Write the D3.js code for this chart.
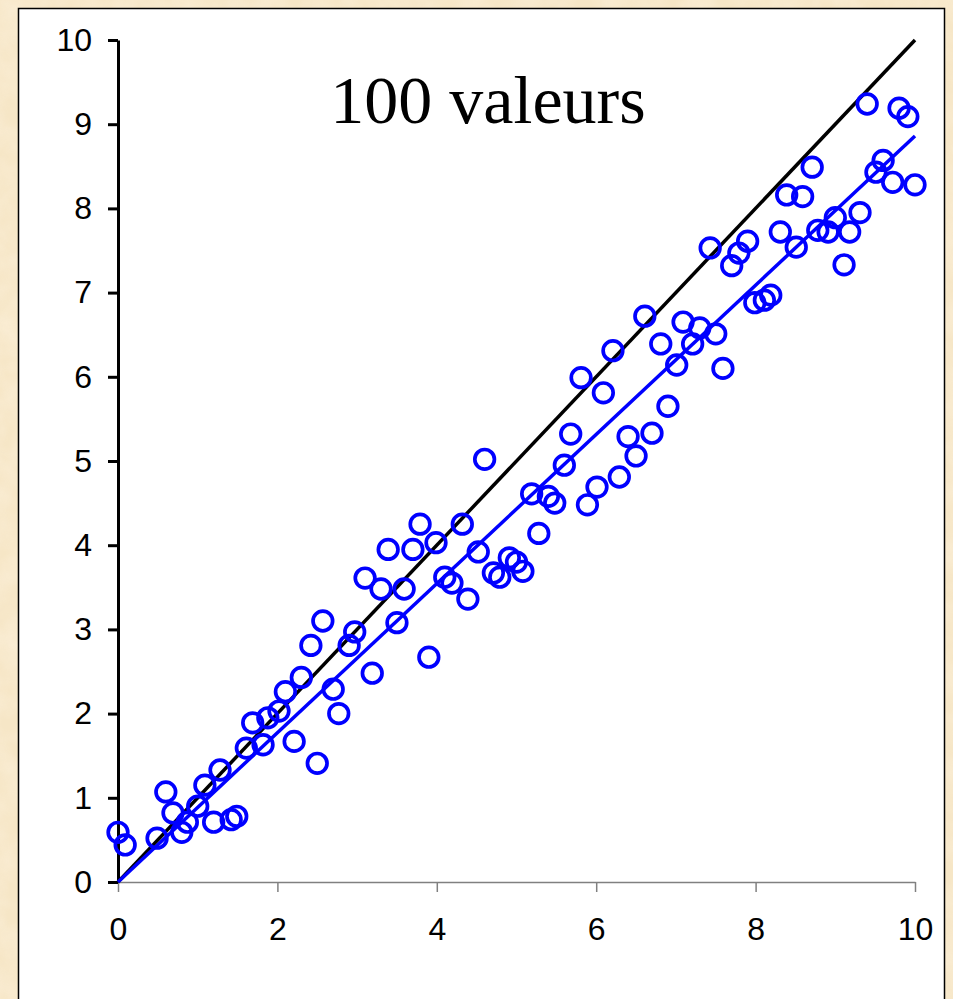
<!DOCTYPE html>
<html>
<head>
<meta charset="utf-8">
<script src="https://cdn.jsdelivr.net/npm/d3@7"></script>
<style>
  body { margin: 0; }
  .axis text { font-family: Arial, "Liberation Sans", sans-serif; font-size: 32px; fill: #000; }
</style>
</head>
<body>
<div id="svg-area"></div>
<script>
// points
var xs = [0.00, 0.09, 0.49, 0.60, 0.69, 0.80, 0.87, 1.00, 1.09, 1.20,
          1.28, 1.42, 1.49, 1.61, 1.69, 1.82, 1.88, 2.02, 2.10, 2.21,
          2.30, 2.42, 2.50, 2.57, 2.70, 2.77, 2.90, 2.97, 3.10, 3.19,
          3.30, 3.39, 3.50, 3.59, 3.70, 3.79, 3.90, 3.99, 4.10, 4.19,
          4.32, 4.39, 4.52, 4.60, 4.71, 4.79, 4.91, 5.00, 5.08, 5.19,
          5.28, 5.40, 5.48, 5.60, 5.68, 5.81, 5.89, 6.01, 6.09, 6.21,
          6.29, 6.40, 6.50, 6.61, 6.70, 6.81, 6.90, 7.01, 7.09, 7.21,
          7.30, 7.43, 7.50, 7.59, 7.70, 7.79, 7.90, 7.99, 8.11, 8.19,
          8.31, 8.39, 8.51, 8.59, 8.71, 8.78, 8.91, 9.00, 9.11, 9.18,
          9.31, 9.40, 9.51, 9.60, 9.72, 9.80, 9.91, 10.00];
var ys = [0.59, 0.44, 0.52, 1.07, 0.82, 0.59, 0.71, 0.90, 1.15, 0.71,
          1.33, 0.74, 0.78, 1.59, 1.89, 1.63, 1.95, 2.03, 2.26, 1.67,
          2.43, 2.81, 1.41, 3.10, 2.29, 2.00, 2.81, 2.97, 3.61, 2.48,
          3.48, 3.95, 3.08, 3.48, 3.95, 4.25, 2.67, 4.03, 3.62, 3.55,
          4.25, 3.36, 3.92, 5.02, 3.67, 3.62, 3.85, 3.80, 3.69, 4.61,
          4.14, 4.58, 4.50, 4.95, 5.32, 5.99, 4.48, 4.69, 5.81, 6.31,
          4.81, 5.29, 5.06, 6.72, 5.33, 6.39, 5.65, 6.14, 6.65, 6.39,
          6.58, 7.53, 6.51, 6.10, 7.32, 7.47, 7.61, 6.88, 6.91, 6.97,
          7.72, 8.16, 7.54, 8.14, 8.49, 7.74, 7.72, 7.89, 7.33, 7.72,
          7.95, 9.24, 8.43, 8.57, 8.31, 9.19, 9.09, 8.28];
var xTicks = [0, 2, 4, 6, 8, 10];
var yTicks = [0, 1, 2, 3, 4, 5, 6, 7, 8, 9, 10];
var idealLine = [[0, 0], [10, 10]];   // y = x
var fitLine = [[0, 0], [10, 8.86]];   // regression
var title = "100 valeurs";

var svg = d3.select("#svg-area")
  .append("svg")
  .attr("width", 953)
  .attr("height", 999);

// parchment background
var defs = svg.append("defs");
var f = defs.append("filter").attr("id", "paper").attr("x", 0).attr("y", 0).attr("width", "100%").attr("height", "100%");
f.append("feTurbulence").attr("type", "fractalNoise").attr("baseFrequency", 0.035).attr("numOctaves", 3).attr("seed", 4).attr("result", "n");
f.append("feColorMatrix").attr("in", "n").attr("type", "matrix")
  .attr("values", "0 0 0 0 0.99  0 0 0 0 0.90  0 0 0 0 0.76  0 0 0 -1.2 0.9");
svg.append("rect").attr("width", 953).attr("height", 999).attr("fill", "#f6e6c6");
svg.append("rect").attr("width", 953).attr("height", 999).attr("filter", "url(#paper)").attr("opacity", 0.6);

// white panel
svg.append("rect")
  .attr("x", 18.5).attr("y", 8.5)
  .attr("width", 926).attr("height", 1010)
  .attr("fill", "#fff").attr("stroke", "#000").attr("stroke-width", 1.5);

var margin = {top: 40, left: 118},
    width = 797,
    height = 842;

var x = d3.scaleLinear().domain([0, 10]).range([0, width]),
    y = d3.scaleLinear().domain([0, 10]).range([height, 0]);

var g = svg.append("g")
  .attr("transform", "translate(" + margin.left + "," + margin.top + ")");

// x axis, thin grey
var gx = g.append("g")
  .attr("class", "axis axis--x")
  .attr("transform", "translate(0," + height + ")")
  .call(d3.axisBottom(x).tickValues(xTicks).tickFormat(d3.format("d")).tickSize(10).tickSizeOuter(0).tickPadding(25));
gx.select(".domain").attr("stroke", "#808080").attr("stroke-width", 1.5);
gx.selectAll(".tick line").attr("stroke", "#808080").attr("stroke-width", 1.5);

// y axis, heavy black
var gy = g.append("g")
  .attr("class", "axis axis--y")
  .call(d3.axisLeft(y).tickValues(yTicks).tickFormat(d3.format("d")).tickSize(10).tickSizeOuter(0).tickPadding(16));
gy.select(".domain").attr("stroke", "#000").attr("stroke-width", 3);
gy.selectAll(".tick line").attr("stroke", "#000").attr("stroke-width", 3);

var line = d3.line()
  .x(function(d) { return x(d[0]); })
  .y(function(d) { return y(d[1]); });

g.append("path").datum(idealLine)
  .attr("d", line).attr("fill", "none").attr("stroke", "#000").attr("stroke-width", 3.5);

g.append("path").datum(fitLine)
  .attr("d", line).attr("fill", "none").attr("stroke", "#0000ff").attr("stroke-width", 3.5);

g.selectAll(".dot")
  .data(xs)
  .enter().append("circle")
    .attr("class", "dot")
    .attr("cx", function(d) { return x(d); })
    .attr("cy", function(d, i) { return y(ys[i]); })
    .attr("r", 9.8)
    .attr("fill", "none")
    .attr("stroke", "#0000ff")
    .attr("stroke-width", 3.7);

svg.append("text")
  .attr("x", 488).attr("y", 123)
  .attr("text-anchor", "middle")
  .style("font-family", "'Times New Roman', 'Liberation Serif', serif")
  .style("font-size", "68px")
  .text(title);
</script>
</body>
</html>
